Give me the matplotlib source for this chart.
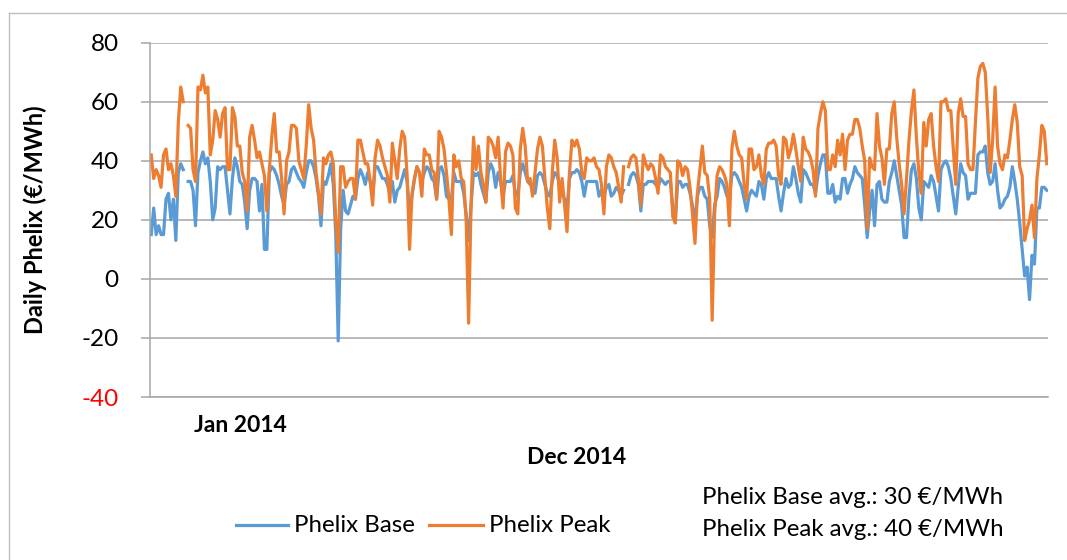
import numpy as np
import matplotlib.pyplot as plt
from matplotlib.lines import Line2D

nan = np.nan

# daily Phelix prices 2014 (EUR/MWh)
phelix_base = [
    15, 24, 15, 18, 15, 15, 27, 29, 20, 27,
    13, 36, 39, 37, nan, 33, 33, 30, 18, 36,
    40, 43, 39, 41, 33, 20, 24, 38, 37, 38,
    38, 30, 22, 34, 41, 38, 33, 32, 26, 17,
    30, 34, 34, 33, 23, 32, 10, 10, 36, 38,
    37, 35, 32, 28, 25, 32, 33, 37, 38, 36,
    34, 33, 31, 36, 40, 40, 38, 34, 28, 18,
    33, 32, 35, 39, 32, 15, -21, 17, 30, 23,
    22, 25, 28, 27, 34, 37, 35, 32, 36, 33,
    28, 38, 38, 36, 34, 34, 32, 29, 33, 26,
    30, 31, 34, 37, 33, 23, 28, 34, 38, 36,
    33, 36, 38, 37, 34, 33, 27, 37, 38, 35,
    28, 27, 27, 36, 33, 33, 33, 29, 22, 13,
    25, 36, 35, 36, 32, 29, 26, 36, 39, 37,
    31, 36, 33, 28, 33, 33, 33, 35, 29, 28,
    36, 39, 36, 33, 32, 31, 29, 35, 36, 35,
    32, 29, 28, 33, 36, 35, 32, 29, 27, 24,
    34, 36, 36, 37, 36, 33, 28, 33, 33, 33,
    33, 33, 28, 30, 28, 31, 32, 28, 29, 31,
    30, 28, 30, nan, 32, 35, 36, 35, 32, 23,
    32, 32, 33, 33, 33, 32, 31, 34, 33, 32,
    33, 33, 24, 19, 33, 33, 31, 32, 32, 29,
    25, 19, 28, 31, 31, 28, 27, 18, 14, 25,
    28, 34, 33, 31, 28, 28, 35, 36, 35, 33,
    31, 27, 23, 28, 30, 29, 28, 33, 32, 27,
    34, 36, 34, 34, 34, 28, 23, 29, 34, 31,
    32, 38, 34, 29, 26, 37, 36, 34, 32, 32,
    29, 35, 39, 42, 42, 29, 29, 32, 26, 28,
    27, 34, 34, 29, 32, 34, 38, 36, 35, 34,
    25, 14, 23, 30, 18, 32, 33, 27, 26, 26,
    33, 36, 40, 35, 30, 25, 14, 14, 28, 37,
    39, 34, 24, 20, 33, 32, 31, 35, 33, 28,
    23, 37, 39, 40, 38, 34, 28, 22, 31, 39,
    36, 35, 27, 29, 29, 29, 42, 43, 43, 45,
    36, 32, 33, 39, 30, 24, 25, 27, 28, 31,
    38, 33, 27, 19, 10, 1, 4, -7, 8, 5,
    24, 24, 31, 31, 30,
]

phelix_peak = [
    42, 34, 37, 35, 31, 42, 44, 37, 39, 35,
    28, 53, 65, 60, nan, 52, 51, 37, 33, 65,
    64, 69, 63, 65, 42, 47, 57, 54, 48, 56,
    58, 37, 37, 58, 55, 45, 45, 36, 33, 23,
    48, 52, 47, 41, 43, 39, 35, 23, 37, 48,
    56, 43, 43, 34, 22, 40, 43, 52, 52, 51,
    40, 37, 34, 45, 59, 51, 47, 36, 29, 22,
    41, 39, 42, 43, 39, 20, 9, 38, 38, 31,
    33, 34, 34, 27, 47, 47, 43, 39, 39, 33,
    25, 41, 47, 45, 41, 38, 35, 26, 46, 40,
    34, 44, 50, 48, 35, 10, 29, 34, 38, 36,
    28, 44, 42, 42, 37, 36, 27, 50, 48, 44,
    36, 27, 15, 42, 38, 40, 34, 33, 20, -15,
    25, 48, 37, 45, 36, 32, 26, 48, 47, 45,
    41, 48, 34, 24, 43, 46, 45, 42, 24, 22,
    44, 51, 45, 33, 34, 28, 36, 44, 48, 45,
    34, 24, 17, 36, 47, 41, 26, 34, 25, 16,
    36, 47, 45, 47, 44, 36, 34, 41, 40, 40,
    41, 38, 37, 32, 22, 38, 42, 41, 38, 36,
    31, 26, 38, nan, 38, 41, 42, 41, 34, 25,
    42, 39, 37, 39, 38, 34, 29, 42, 41, 38,
    37, 36, 21, 19, 40, 39, 35, 38, 37, 31,
    22, 12, 29, 37, 45, 36, 35, 27, -14, 22,
    35, 38, 37, 35, 32, 18, 44, 50, 45, 42,
    41, 32, 27, 44, 44, 37, 38, 42, 35, 32,
    44, 46, 46, 47, 45, 35, 32, 48, 47, 41,
    44, 49, 44, 38, 33, 48, 44, 43, 41, 37,
    28, 51, 56, 60, 57, 37, 37, 42, 38, 47,
    42, 49, 37, 47, 49, 49, 54, 54, 51, 45,
    40, 17, 41, 38, 37, 56, 45, 41, 32, 44,
    44, 56, 60, 48, 39, 32, 22, 34, 47, 57,
    64, 48, 36, 29, 53, 45, 54, 56, 45, 38,
    33, 60, 60, 61, 57, 57, 44, 32, 56, 61,
    55, 55, 39, 37, 37, 53, 68, 72, 73, 70,
    55, 36, 47, 65, 45, 39, 37, 42, 41, 47,
    54, 59, 53, 38, 35, 13, 17, 20, 25, 14,
    34, 42, 52, 50, 39,
]

series_names = ['Phelix Base', 'Phelix Peak']
avg_notes = ['Phelix Base avg.: 30 \u20ac/MWh', 'Phelix Peak avg.: 40 \u20ac/MWh']

days = np.arange(len(phelix_base))

plt.rcParams['font.family'] = ['Lato', 'DejaVu Sans']
plt.rcParams['axes.unicode_minus'] = False

W, H = 1067, 560
BLUE = '#5B9BD5'
ORANGE = '#ED7D31'
GRID = '#A6A6A6'

def fx(px):
    return px / W

def fy(py):
    return 1 - py / H

fig = plt.figure(figsize=(W / 100, H / 100), dpi=100)

# chart frame (only left and top edges visible)
fig.add_artist(Line2D([fx(9), fx(9)], [0, fy(13)], color='#BFBFBF', lw=1))
fig.add_artist(Line2D([fx(9), 1], [fy(13), fy(13)], color='#BFBFBF', lw=1))

ax = fig.add_axes([fx(150), fy(397), fx(1048) - fx(150), fy(42.7) - fy(397)])
ax.plot(days, phelix_base, color=BLUE, lw=2.3)
ax.plot(days, phelix_peak, color=ORANGE, lw=2.3)

ax.set_xlim(-0.5, len(days) - 0.5)
ax.set_ylim(-40, 80)
ax.set_yticks(range(-40, 81, 20))
ax.set_xticks([])
ax.yaxis.grid(True, color=GRID, lw=1.1)
ax.set_axisbelow(True)
for s in ['top', 'right']:
    ax.spines[s].set_visible(False)
for s in ['left', 'bottom']:
    ax.spines[s].set_color(GRID)
    ax.spines[s].set_linewidth(1.1)
ax.tick_params(axis='y', length=6.5, width=1.1, color=GRID, labelsize=17.5, pad=16)
ax.get_yticklabels()[0].set_color('red')

fig.text(fx(35), fy(220), 'Daily Phelix (\u20ac/MWh)', rotation=90, ha='center', va='center',
         fontsize=17, fontweight='bold')
fig.text(fx(240), fy(425), 'Jan 2014', ha='center', va='center', fontsize=16.5, fontweight='bold')
fig.text(fx(577), fy(457), 'Dec 2014', ha='center', va='center', fontsize=16.5, fontweight='bold')

# legend
for (x0, x1), name, col in zip([(236, 288), (429, 483)], series_names, [BLUE, ORANGE]):
    fig.add_artist(Line2D([fx(x0), fx(x1)], [fy(525), fy(525)], color=col, lw=2.3))
    fig.text(fx(x1 + 6), fy(525), name, ha='left', va='center', fontsize=17.3)

for yy, note in zip([497, 529], avg_notes):
    fig.text(fx(702), fy(yy), note, ha='left', va='center', fontsize=17.3)

fig.savefig('out.png', dpi=100)
